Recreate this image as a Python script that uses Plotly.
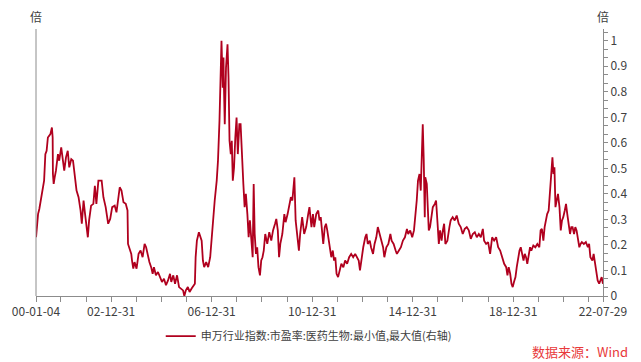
import pandas as pd
import plotly.graph_objects as go

# ---- data (fractional year, normalised PE) ----
years = [
    2000.01, 2000.04, 2000.09, 2000.14, 2000.22, 2000.29, 2000.33, 2000.38, 2000.43, 2000.48,
    2000.58, 2000.64, 2000.67, 2000.68, 2000.71, 2000.75, 2000.80, 2000.88, 2000.93, 2001.01,
    2001.07, 2001.13, 2001.20, 2001.27, 2001.33, 2001.41, 2001.48, 2001.56, 2001.62, 2001.70,
    2001.78, 2001.83, 2001.90, 2001.96, 2002.03, 2002.07, 2002.12, 2002.20, 2002.29, 2002.35,
    2002.41, 2002.49, 2002.62, 2002.69, 2002.78, 2002.88, 2002.96, 2003.04, 2003.14, 2003.21,
    2003.28, 2003.34, 2003.41, 2003.49, 2003.58, 2003.65, 2003.67, 2003.73, 2003.80, 2003.83,
    2003.88, 2003.93, 2004.01, 2004.09, 2004.17, 2004.25, 2004.33, 2004.39, 2004.46, 2004.52,
    2004.59, 2004.65, 2004.70, 2004.78, 2004.86, 2004.94, 2005.02, 2005.10, 2005.18, 2005.26,
    2005.34, 2005.39, 2005.47, 2005.54, 2005.62, 2005.70, 2005.78, 2005.86, 2005.91, 2005.97,
    2006.05, 2006.12, 2006.20, 2006.28, 2006.33, 2006.36, 2006.41, 2006.49, 2006.54, 2006.60,
    2006.65, 2006.70, 2006.78, 2006.86, 2006.94, 2007.02, 2007.07, 2007.12, 2007.20, 2007.25,
    2007.31, 2007.34, 2007.36, 2007.39, 2007.44, 2007.47, 2007.48, 2007.52, 2007.57, 2007.63,
    2007.67, 2007.71, 2007.76, 2007.80, 2007.84, 2007.89, 2007.94, 2007.99, 2008.04, 2008.10,
    2008.15, 2008.20, 2008.26, 2008.31, 2008.36, 2008.42, 2008.47, 2008.52, 2008.57, 2008.63,
    2008.67, 2008.71, 2008.76, 2008.81, 2008.86, 2008.92, 2008.97, 2009.02, 2009.07, 2009.13,
    2009.21, 2009.29, 2009.37, 2009.44, 2009.52, 2009.57, 2009.63, 2009.68, 2009.73, 2009.81,
    2009.89, 2009.94, 2010.02, 2010.07, 2010.15, 2010.21, 2010.29, 2010.34, 2010.42, 2010.47,
    2010.52, 2010.60, 2010.68, 2010.76, 2010.84, 2010.89, 2010.97, 2011.03, 2011.08, 2011.16,
    2011.24, 2011.29, 2011.34, 2011.39, 2011.44, 2011.50, 2011.55, 2011.60, 2011.66, 2011.71,
    2011.76, 2011.82, 2011.87, 2011.92, 2011.97, 2012.03, 2012.08, 2012.16, 2012.24, 2012.31,
    2012.39, 2012.47, 2012.55, 2012.63, 2012.71, 2012.79, 2012.85, 2012.90, 2012.95, 2013.03,
    2013.11, 2013.16, 2013.21, 2013.29, 2013.34, 2013.42, 2013.48, 2013.55, 2013.61, 2013.68,
    2013.74, 2013.82, 2013.87, 2013.95, 2014.03, 2014.11, 2014.16, 2014.24, 2014.32, 2014.37,
    2014.45, 2014.53, 2014.61, 2014.69, 2014.77, 2014.82, 2014.90, 2014.98, 2015.05, 2015.11,
    2015.16, 2015.21, 2015.27, 2015.32, 2015.36, 2015.40, 2015.44, 2015.48, 2015.50, 2015.56,
    2015.60, 2015.64, 2015.69, 2015.75, 2015.80, 2015.88, 2015.93, 2015.99, 2016.04, 2016.09,
    2016.15, 2016.20, 2016.25, 2016.30, 2016.38, 2016.46, 2016.51, 2016.59, 2016.67, 2016.75,
    2016.83, 2016.91, 2016.99, 2017.07, 2017.15, 2017.23, 2017.31, 2017.39, 2017.47, 2017.55,
    2017.63, 2017.71, 2017.79, 2017.84, 2017.92, 2018.00, 2018.08, 2018.16, 2018.24, 2018.32,
    2018.40, 2018.48, 2018.56, 2018.64, 2018.72, 2018.77, 2018.82, 2018.88, 2018.93, 2018.98,
    2019.03, 2019.09, 2019.14, 2019.19, 2019.25, 2019.30, 2019.35, 2019.41, 2019.46, 2019.51,
    2019.56, 2019.62, 2019.67, 2019.72, 2019.80, 2019.88, 2019.96, 2020.04, 2020.09, 2020.14,
    2020.20, 2020.25, 2020.30, 2020.35, 2020.41, 2020.46, 2020.52, 2020.56, 2020.60, 2020.64,
    2020.68, 2020.73, 2020.78, 2020.84, 2020.89, 2020.94, 2020.99, 2021.05, 2021.10, 2021.15,
    2021.20, 2021.26, 2021.31, 2021.36, 2021.42, 2021.47, 2021.52, 2021.57, 2021.63, 2021.68,
    2021.73, 2021.81, 2021.89, 2021.97, 2022.02, 2022.07, 2022.15, 2022.20, 2022.26, 2022.31,
    2022.36, 2022.42, 2022.47, 2022.52, 2022.57,
]

values = [
    0.230, 0.270, 0.321, 0.341, 0.387, 0.413, 0.452, 0.556, 0.569, 0.621,
    0.634, 0.660, 0.621, 0.478, 0.439, 0.465, 0.491, 0.556, 0.530, 0.582,
    0.530, 0.491, 0.543, 0.569, 0.504, 0.536, 0.530, 0.452, 0.413, 0.387,
    0.335, 0.283, 0.374, 0.321, 0.270, 0.230, 0.296, 0.354, 0.361, 0.432,
    0.361, 0.452, 0.452, 0.387, 0.348, 0.283, 0.302, 0.348, 0.354, 0.328,
    0.380, 0.426, 0.413, 0.367, 0.361, 0.335, 0.204, 0.185, 0.165, 0.139,
    0.107, 0.133, 0.107, 0.165, 0.178, 0.152, 0.204, 0.191, 0.152, 0.133,
    0.113, 0.087, 0.113, 0.081, 0.094, 0.074, 0.055, 0.068, 0.042, 0.061,
    0.087, 0.055, 0.081, 0.048, 0.081, 0.035, 0.029, 0.022, 0.000, 0.022,
    0.035, 0.016, 0.029, 0.042, 0.048, 0.152, 0.217, 0.250, 0.230, 0.217,
    0.139, 0.113, 0.133, 0.113, 0.152, 0.257, 0.309, 0.374, 0.452, 0.530,
    0.686, 0.790, 0.921, 1.000, 0.816, 0.934, 0.855, 0.673, 0.895, 0.986,
    0.855, 0.608, 0.556, 0.608, 0.452, 0.504, 0.621, 0.699, 0.556, 0.673,
    0.673, 0.530, 0.439, 0.348, 0.400, 0.321, 0.230, 0.296, 0.217, 0.152,
    0.439, 0.243, 0.165, 0.191, 0.113, 0.081, 0.139, 0.152, 0.178, 0.243,
    0.204, 0.250, 0.217, 0.257, 0.283, 0.302, 0.257, 0.152, 0.204, 0.243,
    0.321, 0.289, 0.321, 0.348, 0.387, 0.374, 0.465, 0.296, 0.230, 0.178,
    0.243, 0.309, 0.243, 0.270, 0.321, 0.348, 0.270, 0.321, 0.270, 0.321,
    0.335, 0.296, 0.309, 0.243, 0.204, 0.270, 0.283, 0.257, 0.217, 0.178,
    0.152, 0.178, 0.139, 0.152, 0.087, 0.074, 0.100, 0.126, 0.113, 0.139,
    0.126, 0.152, 0.165, 0.152, 0.165, 0.152, 0.139, 0.100, 0.139, 0.191,
    0.230, 0.243, 0.204, 0.217, 0.191, 0.165, 0.204, 0.230, 0.270, 0.243,
    0.217, 0.191, 0.152, 0.191, 0.204, 0.243, 0.217, 0.204, 0.178, 0.165,
    0.178, 0.191, 0.217, 0.230, 0.263, 0.243, 0.257, 0.230, 0.257, 0.309,
    0.374, 0.452, 0.478, 0.413, 0.582, 0.673, 0.530, 0.309, 0.465, 0.439,
    0.348, 0.257, 0.270, 0.321, 0.348, 0.361, 0.374, 0.283, 0.204, 0.257,
    0.217, 0.257, 0.283, 0.204, 0.217, 0.270, 0.296, 0.309, 0.296, 0.315,
    0.283, 0.270, 0.243, 0.263, 0.270, 0.257, 0.224, 0.243, 0.250, 0.230,
    0.243, 0.230, 0.263, 0.217, 0.204, 0.211, 0.165, 0.230, 0.217, 0.230,
    0.191, 0.178, 0.152, 0.126, 0.113, 0.081, 0.113, 0.087, 0.048, 0.035,
    0.055, 0.074, 0.113, 0.152, 0.178, 0.191, 0.165, 0.139, 0.165, 0.152,
    0.126, 0.165, 0.191, 0.178, 0.198, 0.191, 0.204, 0.191, 0.257, 0.263,
    0.217, 0.270, 0.296, 0.321, 0.335, 0.400, 0.491, 0.543, 0.478, 0.504,
    0.348, 0.374, 0.400, 0.348, 0.257, 0.296, 0.309, 0.335, 0.361, 0.321,
    0.283, 0.243, 0.270, 0.270, 0.243, 0.270, 0.257, 0.230, 0.191, 0.204,
    0.211, 0.204, 0.211, 0.191, 0.204, 0.152, 0.139, 0.165, 0.126, 0.087,
    0.061, 0.048, 0.061, 0.074, 0.048,
]

series_name = "申万行业指数:市盈率:医药生物:最小值,最大值(右轴)"
x_tick_dates = ["2000-01-04"] + [f"{y}-12-31" for y in range(2000, 2022)] + ["2022-07-29"]
x_tick_labels = {"2000-01-04": "00-01-04", "2002-12-31": "02-12-31", "2006-12-31": "06-12-31",
                 "2010-12-31": "10-12-31", "2014-12-31": "14-12-31", "2018-12-31": "18-12-31",
                 "2022-07-29": "22-07-29"}
y_ticks = [0, 0.1, 0.2, 0.3, 0.4, 0.5, 0.6, 0.7, 0.8, 0.9, 1]
y_tick_labels = ["0", "0.1", "0.2", "0.3", "0.4", "0.5", "0.6", "0.7", "0.8", "0.9", "1"]


def to_date(t):
    y = int(t)
    start = pd.Timestamp(y, 1, 1)
    ndays = (pd.Timestamp(y + 1, 1, 1) - start).days
    return start + pd.Timedelta(days=(t - y) * ndays)


dates = [to_date(t) for t in years]

FONT = "Noto Sans CJK SC, Noto Sans, sans-serif"
LINE = "#B0001E"
AX = "#8c8c8c"

fig = go.Figure()
fig.add_trace(go.Scatter(x=dates, y=values, mode="lines", name=series_name,
                         line=dict(color=LINE, width=1.8), showlegend=True))

fig.update_layout(
    width=641, height=362,
    margin=dict(l=32, r=38, t=29, b=65),
    paper_bgcolor="white", plot_bgcolor="white",
    font=dict(family=FONT, size=12, color="#404040"),
    showlegend=True,
    legend=dict(orientation="h", x=0.22, y=-0.15, xanchor="left", yanchor="middle",
                font=dict(size=11, color="#404040"), itemwidth=30,
                bgcolor="rgba(0,0,0,0)", borderwidth=0),
    xaxis=dict(
        type="date",
        range=["2000-01-04", "2022-07-29"],
        tickmode="array",
        tickvals=x_tick_dates,
        ticktext=[x_tick_labels.get(d, "") for d in x_tick_dates],
        ticks="outside", ticklen=5, tickwidth=1, tickcolor=AX,
        showline=True, linecolor=AX, linewidth=1,
        showgrid=False, zeroline=False,
        tickfont=dict(size=12, color="#404040"),
    ),
    yaxis=dict(
        side="right",
        range=[0, 1.046],
        tickmode="array",
        tickvals=y_ticks,
        ticktext=y_tick_labels,
        ticks="outside", ticklen=4, tickwidth=1, tickcolor=AX,
        minor=dict(tickmode="linear", tick0=0, dtick=1 / 30, ticks="outside",
                   ticklen=4, tickcolor=AX, showgrid=False),
        showline=True, linecolor=AX, linewidth=1,
        showgrid=False, zeroline=False,
        tickfont=dict(size=12, color="#404040"),
    ),
    shapes=[dict(type="line", xref="paper", yref="paper", x0=0, x1=0, y0=0, y1=1,
                 line=dict(color=AX, width=1))],
    annotations=[
        dict(text="倍", xref="paper", yref="paper", x=0, y=1, yshift=13,
             xanchor="center", yanchor="middle", showarrow=False,
             font=dict(size=12, color="#404040")),
        dict(text="倍", xref="paper", yref="paper", x=1, y=1, yshift=13,
             xanchor="center", yanchor="middle", showarrow=False,
             font=dict(size=12, color="#404040")),
        dict(text="数据来源：Wind", xref="paper", yref="paper", x=1, y=0,
             xshift=27, yshift=-55, xanchor="right", yanchor="middle", showarrow=False,
             font=dict(size=13, color="#E8393A")),
    ],
)

fig.write_html("out.html", config={"displayModeBar": False},
               post_script="document.body.style.margin='0';document.body.style.overflow='hidden';")
